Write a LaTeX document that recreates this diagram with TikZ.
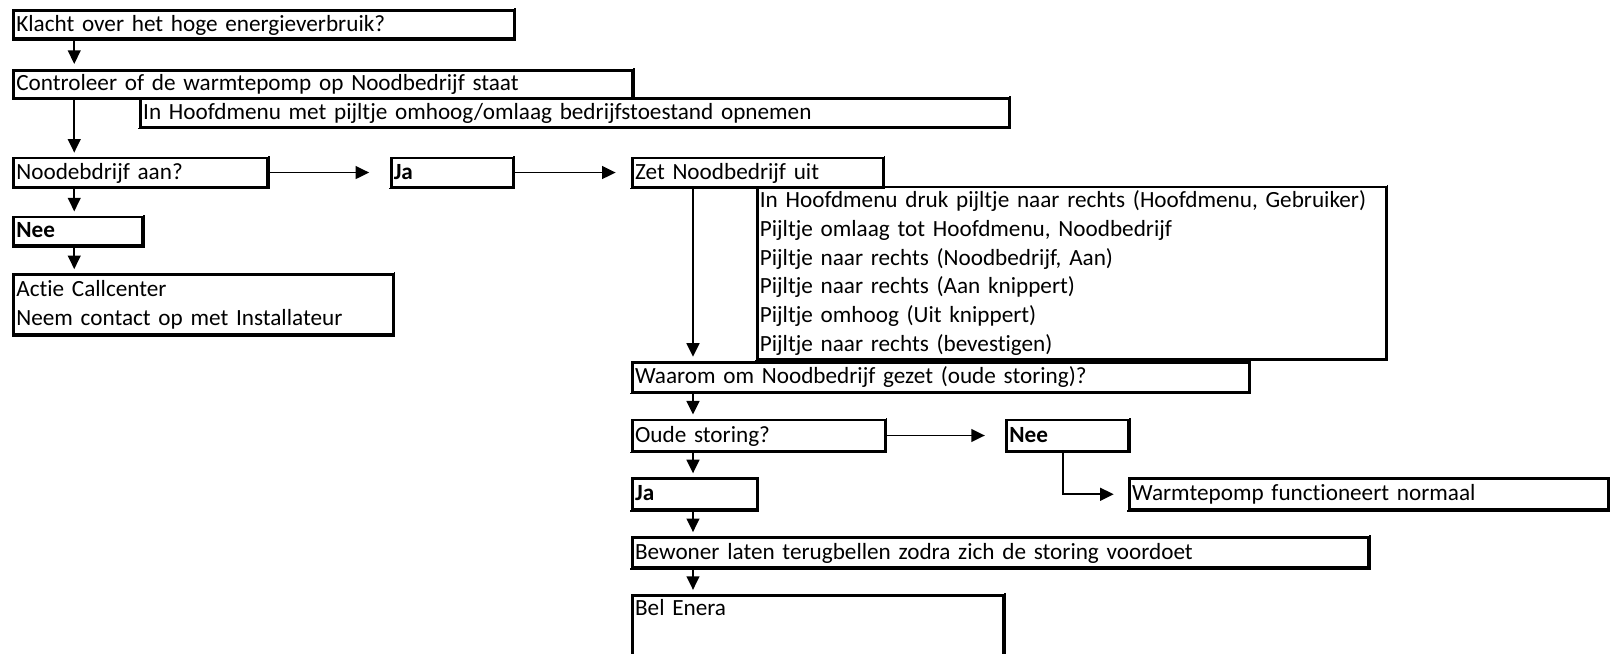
\documentclass[tikz,border=0pt]{standalone}
\usepackage{fontspec}
\setmainfont{Carlito}[Ligatures=NoCommon, WordSpace=0.85]
\usetikzlibrary{arrows.meta,calc}
\tikzset{
  flowbox/.style={draw, line width=1.35pt, anchor=north west, align=left,
    inner xsep=1.3pt, inner ysep=0pt, font=\fontsize{11.6}{14.4}\selectfont,
    append after command={(\tikzlastnode.north east) edge[line width=0.8pt, line cap=rect] (\tikzlastnode.south east)
      (\tikzlastnode.south east) edge[line width=0.8pt, line cap=rect] (\tikzlastnode.south west)}},
  oneline/.style={text height=8.9pt, text depth=2.4pt},
  bx/.code 2 args={%
    \pgfmathsetlengthmacro\bxw{(#1)*0.515625pt}%
    \pgfmathsetlengthmacro\bxt{(#1)*0.515625pt-2.6pt}%
    \pgfmathsetlengthmacro\bxh{(#2)*0.515625pt}%
    \edef\bxtmp{\noexpand\tikzset{minimum width=\bxw, text width=\bxt, minimum height=\bxh}}\bxtmp},
  arr/.style={draw, line width=0.95pt, -{Triangle[length=6.8pt,width=6.4pt]}},
}
\begin{document}
\begin{tikzpicture}[x=0.515625pt, y=-0.515625pt]
\useasboundingbox (0,0) rectangle (1568,634);
% left column
\node[flowbox, oneline, bx={485}{27}] (b1) at (12,9) {Klacht over het hoge energieverbruik?};
\node[flowbox, oneline, bx={600}{27}] (b2) at (12,67) {Controleer of de warmtepomp op Noodbedrijf staat};
\node[flowbox, oneline, bx={842}{28}] (b3) at (135,94) {In Hoofdmenu met pijltje omhoog/omlaag bedrijfstoestand opnemen};
\node[flowbox, oneline, bx={246}{28}] (b4) at (12,152) {Noodebdrijf aan?};
\node[flowbox, oneline, bx={118}{28}] (ja1) at (378,152) {\bfseries Ja};
\node[flowbox, oneline, bx={243}{28}] (zet) at (612,152) {Zet Noodbedrijf uit};
\node[flowbox, oneline, bx={125}{28}] (nee1) at (12,209) {\bfseries Nee};
\node[flowbox, bx={368}{58}] (actie) at (12,265) {Actie Callcenter\\Neem contact op met Installateur};
% right column
\node[flowbox, bx={610}{167}] (steps) at (733,180) {In Hoofdmenu druk pijltje naar rechts (Hoofdmenu, Gebruiker)\\Pijltje omlaag tot Hoofdmenu, Noodbedrijf\\Pijltje naar rechts (Noodbedrijf, Aan)\\Pijltje naar rechts (Aan knippert)\\Pijltje omhoog (Uit knippert)\\Pijltje naar rechts (bevestigen)};
\node[flowbox, oneline, bx={598}{29}] (waarom) at (612,350) {Waarom om Noodbedrijf gezet (oude storing)?};
\node[flowbox, oneline, bx={245}{30}] (oude) at (612,406) {Oude storing?};
\node[flowbox, oneline, bx={118}{30}] (nee2) at (975,406) {\bfseries Nee};
\node[flowbox, oneline, bx={464}{30}] (warm) at (1094,463) {Warmtepomp functioneert normaal};
\node[flowbox, oneline, bx={121}{30}] (ja2) at (612,463) {\bfseries Ja};
\node[flowbox, oneline, bx={714}{29}] (bew) at (612,520) {Bewoner laten terugbellen zodra zich de storing voordoet};
\node[flowbox, bx={360}{30}, text height=10pt, text depth=32pt] (bel) at (612,576) {Bel Enera};
% connectors left
\draw[arr] ($(b1.south west)+(60,0)$) -- ($(b2.north west)+(60,-5)$);
\draw[arr] ($(b2.south west)+(60,0)$) -- ($(b4.north west)+(60,-4)$);
\draw[arr] ($(b4.south west)+(60,0)$) -- ($(nee1.north west)+(60,-4)$);
\draw[arr] ($(nee1.south west)+(60,0)$) -- ($(actie.north west)+(60,-4)$);
\draw[arr] (b4.east) -- ($(ja1.west)+(-20,0)$);
\draw[arr] (ja1.east) -- ($(zet.west)+(-15,0)$);
% connectors right
\draw[arr] ($(zet.south west)+(60,0)$) -- ($(waarom.north west)+(60,-4)$);
\draw[arr] ($(waarom.south west)+(60,0)$) -- ($(oude.north west)+(60,-4)$);
\draw[arr] (oude.east) -- ($(nee2.west)+(-20,0)$);
\draw[arr] ($(nee2.south west)+(56,0)$) |- ($(warm.west)+(-14,0)$);
\draw[arr] ($(oude.south west)+(60,0)$) -- ($(ja2.north west)+(60,-4)$);
\draw[arr] ($(ja2.south west)+(60,0)$) -- ($(bew.north west)+(60,-4)$);
\draw[arr] ($(bew.south west)+(60,0)$) -- ($(bel.north west)+(60,-4)$);
\end{tikzpicture}
\end{document}
